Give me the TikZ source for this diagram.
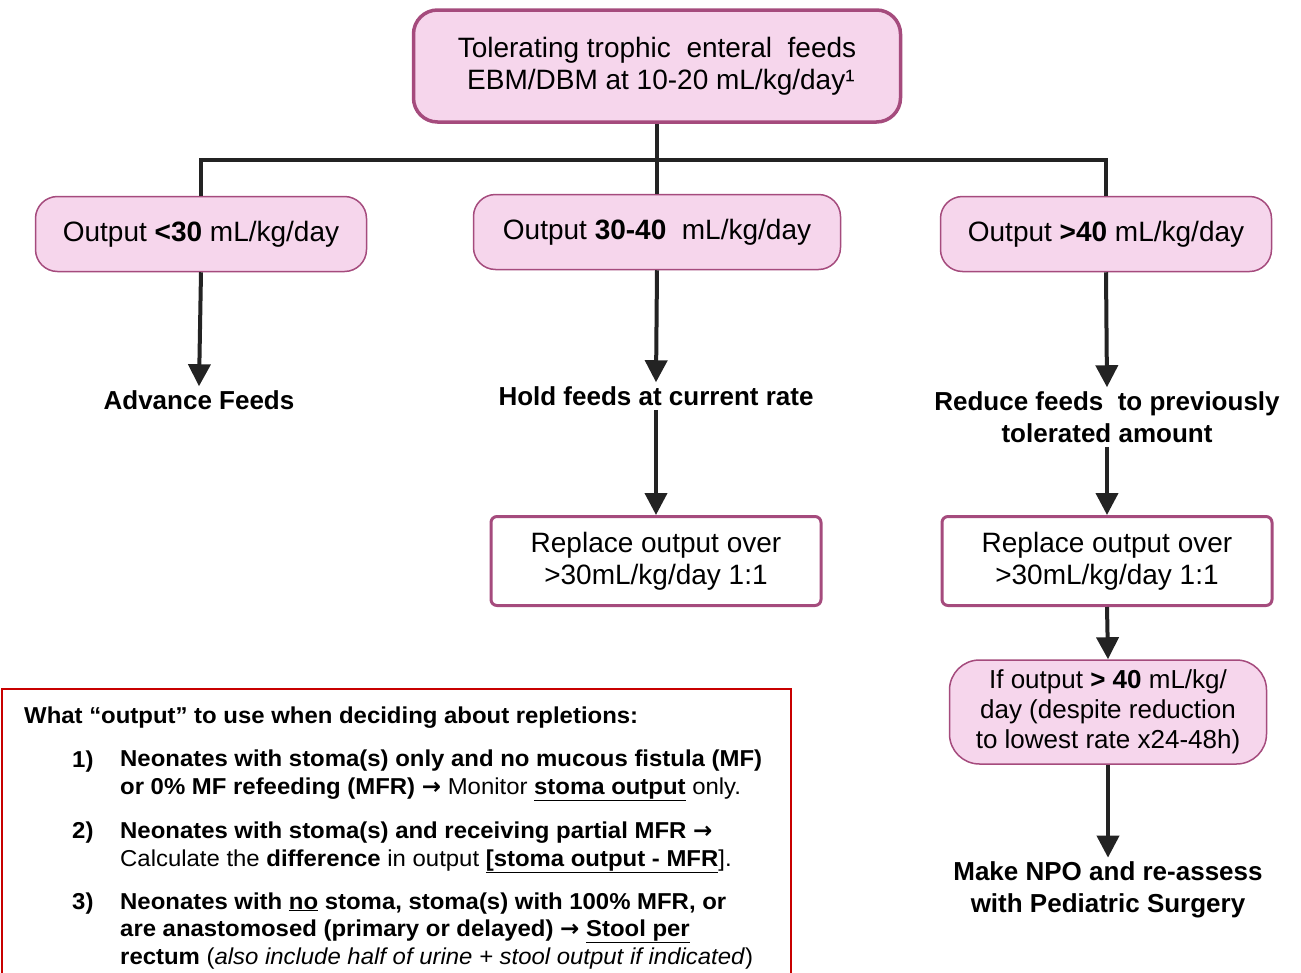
\documentclass[tikz,border=0pt]{standalone}
\usepackage{fontspec}
\setmainfont{Liberation Sans}
\newfontfamily\notefont[FakeStretch=1.04]{Liberation Sans}
\newfontfamily\arrowfont{DejaVu Sans}
\newcommand\thenarrow{{\arrowfont\bfseries →}}
\usetikzlibrary{arrows.meta,calc}
\definecolor{feedpink}{RGB}{246,214,236}
\definecolor{feedrim}{RGB}{165,75,125}
\definecolor{noteframe}{RGB}{200,0,0}
\definecolor{linkgray}{RGB}{35,35,35}

\begin{document}
\begin{tikzpicture}[x=1pt,y=-1pt,
  pinkbox/.style={draw=feedrim, fill=feedpink, line width=1.5pt, rounded corners=22pt,
    align=center, inner sep=0pt, font=\fontsize{28}{32}\selectfont},
  whitebox/.style={draw=feedrim, fill=white, line width=3pt, rounded corners=6pt,
    align=center, inner sep=0pt, font=\fontsize{28}{32}\selectfont},
  stepnote/.style={font=\fontsize{26}{32}\selectfont\bfseries, align=center, inner sep=4pt},
  link/.style={draw=linkgray, line width=4pt},
  flowarrow/.style={link, -{Triangle[width=22pt,length=22pt]}},
  notetext/.style={anchor=base west, align=left, inner sep=0pt, font=\notefont\fontsize{23}{27.5}\selectfont}]
  \useasboundingbox (0,0) rectangle (1301,972);

  % top of the tree
  \node[pinkbox, minimum width=487pt, minimum height=112pt, line width=3.5pt, rounded corners=24pt]
    (start) at (657,66) {Tolerating trophic\ \ enteral\ \ feeds\\ \ EBM/DBM at 10-20 mL/kg/day¹};
  \node[pinkbox, minimum width=331pt, minimum height=75pt] (low) at (201,234) {Output \textbf{<30} mL/kg/day};
  \node[pinkbox, minimum width=367pt, minimum height=75pt] (mid) at (657,232) {Output \textbf{30-40}\ \ mL/kg/day};
  \node[pinkbox, minimum width=331pt, minimum height=75pt] (high) at (1106,234) {Output \textbf{>40} mL/kg/day};
  \coordinate (bus) at ($(start.south)+(0,36)$);
  \draw[link] (low.north) |- (bus) -| (high.north);
  \draw[link] (start.south) -- (mid.north);

  % left branch
  \node[stepnote] (advance) at (199,400) {Advance Feeds};
  \draw[flowarrow] (low.south) -- (advance.north);

  % middle branch
  \node[stepnote] (hold) at (656,396) {Hold feeds at current rate};
  \draw[flowarrow] (mid.south) -- (hold.north);
  \node[whitebox, minimum width=330pt, minimum height=89pt] (replmid) at (656,561) {Replace output over\\ >30mL/kg/day 1:1};
  \draw[flowarrow] (hold.south) -- (replmid.north);

  % right branch
  \node[stepnote] (reduce) at (1107,417) {Reduce feeds\ \ to previously\\ tolerated amount};
  \draw[flowarrow] (high.south) -- (reduce.north);
  \node[whitebox, minimum width=330pt, minimum height=89pt] (replhigh) at (1107,561) {Replace output over\\ >30mL/kg/day 1:1};
  \draw[flowarrow] (reduce.south) -- (replhigh.north);
  \node[pinkbox, minimum width=317pt, minimum height=104pt, rounded corners=30pt, font=\fontsize{26}{30}\selectfont]
    (persist) at (1108,712) {If output \textbf{> 40} mL/kg/\\ day (despite reduction\\ to lowest rate x24-48h)};
  \draw[flowarrow] (replhigh.south) -- (persist.north);
  \node[stepnote] (npo) at (1108,890) {Make NPO and re-assess\\ with Pediatric Surgery};
  \draw[flowarrow] (persist.south) -- (npo.north);

  % which output to use (base anchor sits on the last line)
  \draw[noteframe, line width=2pt] (2,689) rectangle (791,1000);
  \node[notetext] (whathead) at (24,723) {\textbf{What “output” to use when deciding about repletions:}};
  \node[notetext] (num1) at (72,767) {\textbf{1)}};
  \node[notetext] (item1) at (120,794) {\textbf{Neonates with stoma(s) only and no mucous fistula (MF)}\\
    \textbf{or 0\% MF refeeding (MFR) \thenarrow} Monitor \textbf{\underline{stoma output}} only.};
  \node[notetext] (num2) at (72,838) {\textbf{2)}};
  \node[notetext] (item2) at (120,866) {\textbf{Neonates with stoma(s) and receiving partial MFR \thenarrow}\\
    Calculate the \textbf{difference} in output \textbf{\underline{[stoma output - MFR}}].};
  \node[notetext] (num3) at (72,909) {\textbf{3)}};
  \node[notetext] (item3) at (120,964) {\textbf{Neonates with \underline{no} stoma, stoma(s) with 100\% MFR, or}\\
    \textbf{are anastomosed (primary or delayed) \thenarrow\ \underline{Stool per}}\\
    \textbf{rectum} (\textit{also include half of urine + stool output if indicated})};
\end{tikzpicture}
\end{document}
